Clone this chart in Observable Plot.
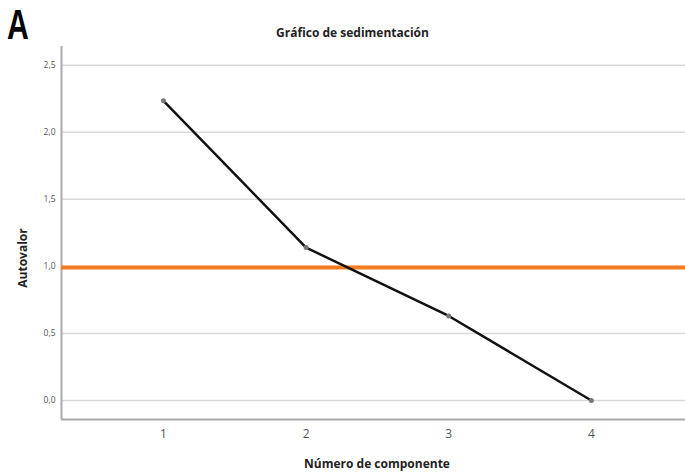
<!DOCTYPE html>
<html>
<head>
<meta charset="utf-8">
<script src="https://cdn.jsdelivr.net/npm/d3@7"></script>
<script src="https://cdn.jsdelivr.net/npm/@observablehq/plot@0.6"></script>
<style>
  body { margin: 0; background: #fff; }
  #wrap { position: relative; width: 685px; height: 474px; font-family: "Open Sans", sans-serif; }
  #panel { position: absolute; left: 7px; top: 1px; font-family: "Liberation Sans", sans-serif; font-weight: bold; font-size: 42px; color: #000; transform: scaleX(0.72); transform-origin: left top; line-height: 48px; }
  #title { position: absolute; left: 0; width: 685px; top: 24px; text-align: center; font-size: 12px; font-weight: bold; color: #222; padding-left: 20px; box-sizing: border-box; }
  #ylab { position: absolute; left: 22px; top: 258px; font-size: 12px; font-weight: bold; color: #222; transform: translate(-50%, -50%) rotate(-90deg); white-space: nowrap; }
  #xlab { position: absolute; left: 377px; top: 463px; font-size: 12px; font-weight: bold; color: #222; transform: translate(-50%, -50%); white-space: nowrap; }
  #chart { position: absolute; left: 0; top: 0; }
</style>
</head>
<body>
<div id="wrap">
  <div id="chart"></div>
  <div id="panel">A</div>
  <div id="title"></div>
  <div id="ylab"></div>
  <div id="xlab"></div>
</div>
<script>
const components = [1, 2, 3, 4];
const eigenvalues = [2.235, 1.14, 0.63, 0.0];
const yTicks = [0, 0.5, 1.0, 1.5, 2.0, 2.5];
const xTicks = [1, 2, 3, 4];
const threshold = 1.0;
const titleText = "Gráfico de sedimentación";
const xLabel = "Número de componente";
const yLabel = "Autovalor";

document.getElementById("title").textContent = titleText;
document.getElementById("xlab").textContent = xLabel;
document.getElementById("ylab").textContent = yLabel;

const data = components.map((c, i) => ({c, v: eigenvalues[i]}));
const xDom = [0.285, 4.66];
const yDom = [-0.142, 2.64];
const comma = d => d.toFixed(1).replace(".", ",");

const plot = Plot.plot({
  width: 685,
  height: 474,
  marginLeft: 61,
  marginRight: 0,
  marginTop: 46,
  marginBottom: 55,
  style: {fontFamily: "'Open Sans', sans-serif", background: "transparent"},
  x: {domain: xDom, label: null},
  y: {domain: yDom, label: null},
  marks: [
    Plot.gridY(yTicks, {stroke: "#d9d9d9", strokeOpacity: 1, strokeWidth: 1.5}),
    Plot.axisY(yTicks, {tickSize: 0, tickPadding: 6, tickFormat: comma, fontSize: 8.5, fill: "#555"}),
    Plot.axisX(xTicks, {tickSize: 0, tickPadding: 10, tickFormat: d => String(d), fontSize: 12, fill: "#555"}),
    Plot.ruleX([xDom[0]], {stroke: "#aaa", strokeWidth: 2}),
    Plot.ruleY([yDom[0]], {stroke: "#aaa", strokeWidth: 2}),
    Plot.ruleY([threshold], {stroke: "#f47b20", strokeWidth: 4, dy: 1}),
    Plot.line(data, {x: "c", y: "v", stroke: "#111", strokeWidth: 2.5}),
    Plot.dot(data, {x: "c", y: "v", r: 2.5, fill: "#777", stroke: "none"})
  ]
});
document.getElementById("chart").appendChild(plot);
</script>
</body>
</html>
